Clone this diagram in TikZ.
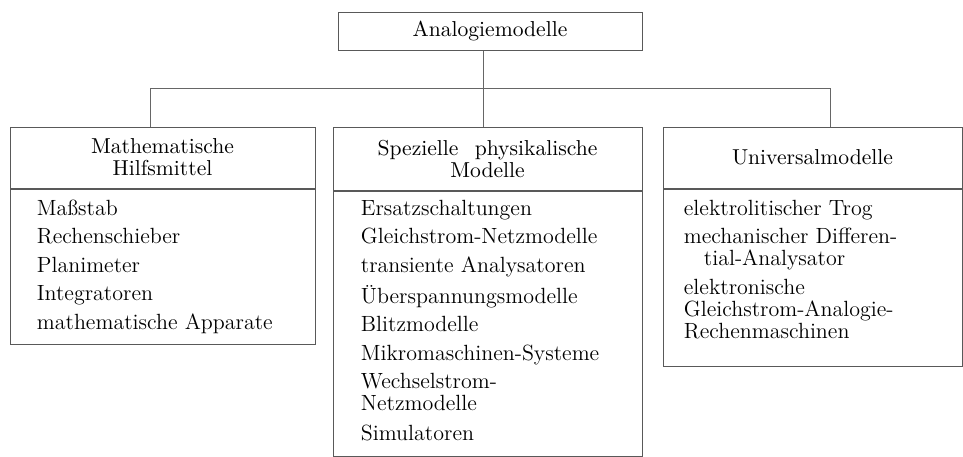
\documentclass[tikz,border=0pt]{standalone}
\usepackage{tikz}
\usetikzlibrary{positioning, calc}
\tikzset{
    box_head/.style={
        rectangle, draw=black!65, line width=0.5pt,
        align=center, inner sep=0pt,
        font=\fontsize{10.8}{11}\selectfont
    },
    box_body/.style={
        rectangle, draw=black!65, line width=0.5pt, inner sep=0pt
    },
    item_list/.style={
        anchor=north west, align=left, inner sep=0pt,
        font=\fontsize{11}{11}\selectfont
    },
    tree_line/.style={
        draw=black!60, line width=0.5pt
    }
}

\begin{document}
\begin{tikzpicture}[x=0.5pt, y=-0.5pt]
    \useasboundingbox (0,0) rectangle (963,456);

    % --- Root ---
    \node[box_head, minimum width=152pt, minimum height=19pt] (root) at (490, 31) {Analogiemodelle};

    % --- Branch points ---
    \coordinate (jm) at (483, 88);
    \coordinate (jl) at (150, 88);
    \coordinate (jr) at (830, 88);

    % --- Column 1: Mathematische Hilfsmittel ---
    \node[box_head, minimum width=152.5pt, minimum height=30.5pt] (math_head) at (162.5, 157.5) {Mathematische\\Hilfsmittel};
    \node[box_body, minimum width=152.5pt, minimum height=77.5pt, below=0pt of math_head] (math_body) {};
    \node[item_list] (math_items) at ([xshift=13.5pt, yshift=-5.5pt]math_body.north west) {
        Maßstab\\[3.25pt]
        Rechenschieber\\[3.25pt]
        Planimeter\\[3.25pt]
        Integratoren\\[3.25pt]
        mathematische Apparate
    };

    % --- Column 2: Spezielle physikalische Modelle ---
    \node[box_head, minimum width=154.5pt, minimum height=31.5pt] (spez_head) at (487.5, 158.5) {Spezielle\hspace{0.75em}physikalische\\Modelle};
    \node[box_body, minimum width=154.5pt, minimum height=132.5pt, below=0pt of spez_head] (spez_body) {};
    \node[item_list] (spez_items) at ([xshift=14pt, yshift=-4.5pt]spez_body.north west) {
        Ersatzschaltungen\\[3.25pt]
        Gleichstrom-Netzmodelle\\[3.25pt]
        transiente Analysatoren\\[3.25pt]
        Überspannungsmodelle\\[3.25pt]
        Blitzmodelle\\[3.25pt]
        Mikromaschinen-Systeme\\[3.25pt]
        Wechselstrom-\\
        Netzmodelle\\[4pt]
        Simulatoren
    };

    % --- Column 3: Universalmodelle ---
    \node[box_head, minimum width=149.5pt, minimum height=30.5pt] (univ_head) at (812.5, 157.5) {Universalmodelle};
    \node[box_body, minimum width=149.5pt, minimum height=88.5pt, below=0pt of univ_head] (univ_body) {};
    \node[item_list] (univ_items) at ([xshift=10.5pt, yshift=-5.5pt]univ_body.north west) {
        elektrolitischer Trog\\[3.25pt]
        mechanischer Differen-\\
        \hspace*{10pt}tial-Analysator\\[3.25pt]
        elektronische\\
        Gleichstrom-Analogie-\\
        Rechenmaschinen
    };

    % --- Tree lines ---
    \draw[tree_line] (root.south -| jm) -- (jm);
    \draw[tree_line] (jl) -- (jr);
    \draw[tree_line] (jl) -- (jl |- math_head.north);
    \draw[tree_line] (jm) -- (jm |- spez_head.north);
    \draw[tree_line] (jr) -- (jr |- univ_head.north);

\end{tikzpicture}
\end{document}
